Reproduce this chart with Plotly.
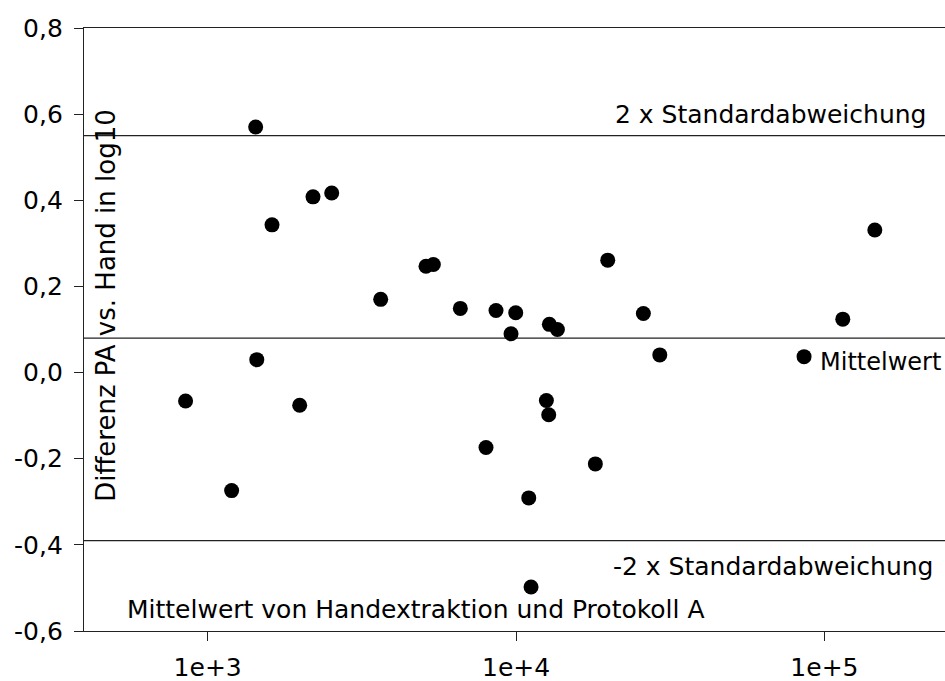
import plotly.graph_objects as go

# Bland-Altman style comparison: PA vs. hand extraction (log10 differences)
mean_values = [1431, 1617, 2196, 2525, 1443, 848, 1988, 1196,
               3640, 5105, 5393, 6597, 8611, 9977, 9633, 12824, 13618,
               19832, 25873, 29250, 12542, 12764, 7991, 18079, 10996, 11186,
               114700, 85900, 145700]
differences = [0.570, 0.343, 0.408, 0.417, 0.030, -0.066, -0.076, -0.274,
               0.170, 0.247, 0.251, 0.149, 0.144, 0.139, 0.090, 0.112, 0.100,
               0.261, 0.137, 0.041, -0.065, -0.098, -0.174, -0.212, -0.291, -0.498,
               0.124, 0.037, 0.331]

mean_diff = 0.08
upper_limit = 0.55
lower_limit = -0.39

y_tickvals = [-0.6, -0.4, -0.2, 0.0, 0.2, 0.4, 0.6, 0.8]
y_ticktext = ["-0,6", "-0,4", "-0,2", "0,0", "0,2", "0,4", "0,6", "0,8"]
x_tickvals = [1e3, 1e4, 1e5]
x_ticktext = ["1e+3", "1e+4", "1e+5"]

FONT = "DejaVu Sans"
FS = 25

fig = go.Figure()
fig.add_trace(go.Scatter(
    x=mean_values, y=differences, mode="markers",
    marker=dict(color="black", size=15, line=dict(width=0)),
    showlegend=False, hoverinfo="x+y",
))

for val in (upper_limit, mean_diff, lower_limit):
    fig.add_shape(type="line", xref="paper", x0=0, x1=1, yref="y", y0=val, y1=val,
                  line=dict(color="#222222", width=1.3), layer="below")

annots = [
    dict(text="2 x Standardabweichung", x=0.980, y=0.600, xanchor="right", size=FS),
    dict(text="Mittelwert", x=0.853, y=0.025, xanchor="left", size=24),
    dict(text="-2 x Standardabweichung", x=0.988, y=-0.450, xanchor="right", size=FS),
    dict(text="Mittelwert von Handextraktion und Protokoll A", x=0.0476, y=-0.551,
         xanchor="left", size=FS),
]
for a in annots:
    size = a.pop("size")
    fig.add_annotation(xref="paper", yref="y", yanchor="middle", showarrow=False,
                       font=dict(family=FONT, size=size, color="black"), **a)

fig.add_annotation(text="Differenz PA vs. Hand in log10", xref="paper", yref="y",
                   x=0.0256, y=0.155, textangle=-90, showarrow=False,
                   xanchor="center", yanchor="middle",
                   font=dict(family=FONT, size=26, color="black"))

fig.update_layout(
    width=945, height=681,
    margin=dict(l=84, r=0, t=28, b=50),
    paper_bgcolor="white", plot_bgcolor="white",
    font=dict(family=FONT, size=FS, color="black"),
    xaxis=dict(type="log", range=[2.599, 5.391], showgrid=False, zeroline=False,
               automargin=False,
               showline=True, linecolor="#222222", linewidth=1.3, mirror=True,
               ticks="outside", ticklen=9, tickcolor="#222222",
               tickvals=x_tickvals, ticktext=x_ticktext, ticklabelstandoff=5),
    yaxis=dict(range=[-0.6, 0.8], showgrid=False, zeroline=False,
               automargin=False,
               showline=True, linecolor="#222222", linewidth=1.3,
               ticks="outside", ticklen=9, tickcolor="#222222",
               tickvals=y_tickvals, ticktext=y_ticktext, ticklabelstandoff=6),
)

fig.write_html("out.html")
